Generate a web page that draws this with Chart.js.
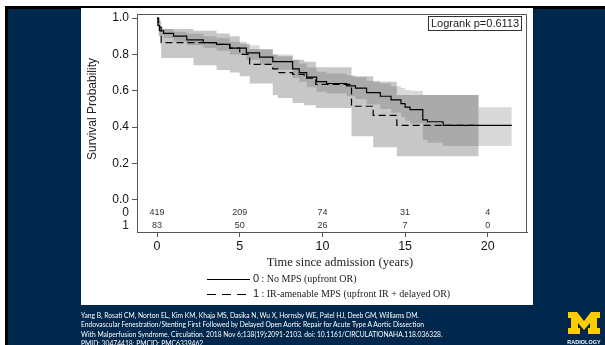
<!DOCTYPE html>
<html>
<head>
<meta charset="utf-8">
<script src="https://cdn.jsdelivr.net/npm/chart.js@4.4.1/dist/chart.umd.min.js"></script>
<style>
    html, body { margin: 0; padding: 0; }
    body { width: 605px; height: 345px; position: relative; overflow: hidden; background: #fff; font-family: "Liberation Sans", Arial, sans-serif; }
    #blackEdge { position: absolute; left: 5px; top: 6px; right: 0; bottom: 0; background: #000; }
    #navy { position: absolute; left: 8px; top: 9px; right: 0; bottom: 0; background: #00274c; }
    #panel { position: absolute; left: 81px; top: 8px; width: 452px; height: 297px; background: #fff; }
    #kmChart { position: absolute; left: 0; top: 0; }
    #cite { position: absolute; left: 81px; top: 311px; color: #fff; font-family: Lato, "Open Sans", sans-serif; font-size: 7.8px; line-height: 9.3px; white-space: nowrap; transform: scaleX(0.86); transform-origin: left top; }
    #logo { position: absolute; left: 567px; top: 312px; width: 34px; }
    #logo span { display: block; color: #fff; font-family: "Liberation Sans", Arial, sans-serif; font-weight: bold; font-size: 5.4px; text-align: center; margin-top: 1px; letter-spacing: 0.1px; }
</style>
</head>
<body>
<div id="blackEdge"></div>
<div id="navy"></div>
<div id="panel"></div>
<canvas id="kmChart" width="605" height="345"></canvas>

<div id="cite">
    Yang B, Rosati CM, Norton EL, Kim KM, Khaja MS, Dasika N, Wu X, Hornsby WE, Patel HJ, Deeb GM, Williams DM.<br>
    Endovascular Fenestration/Stenting First Followed by Delayed Open Aortic Repair for Acute Type A Aortic Dissection<br>
    With Malperfusion Syndrome. Circulation. 2018 Nov 6;138(19):2091-2103. doi: 10.1161/CIRCULATIONAHA.118.036328.<br>
    PMID: 30474418; PMCID: PMC6339462.
</div>

<div id="logo">
    <svg width="34" height="22" viewBox="0 0 34 22">
        <polygon fill="#ffcb05" points="1,0 10,0 17,9 24,0 33,0 33,6 30,6 30,16 33,16 33,22 21,22 21,16 23,16 23,11 17,18 11,11 11,16 13,16 13,22 1,22 1,16 4,16 4,6 1,6"/>
    </svg>
    <span>RADIOLOGY</span>
</div>

<script>
/* ================= DATA ================= */

// group 0 : No MPS (upfront OR)
const times0 = [0, 0.05, 0.15, 0.4, 1.0, 1.8, 2.8, 3.6, 4.4, 5.4, 6.2, 7.0, 8.2, 8.6, 9.05, 9.65, 10.25, 11.46, 12.0, 12.67, 13.5, 14.15, 14.75, 15.0, 15.3, 16.07, 16.35, 17.3, 19.45, 21.45];
const surv0  = [1.0, 0.96, 0.93, 0.915, 0.90, 0.88, 0.865, 0.855, 0.835, 0.808, 0.785, 0.76, 0.72, 0.70, 0.675, 0.65, 0.64, 0.627, 0.615, 0.59, 0.57, 0.55, 0.53, 0.51, 0.497, 0.44, 0.43, 0.41, 0.41, 0.41];
const lower0 = [1.0, 0.94, 0.905, 0.89, 0.87, 0.85, 0.835, 0.82, 0.80, 0.77, 0.745, 0.715, 0.67, 0.65, 0.62, 0.595, 0.585, 0.57, 0.555, 0.525, 0.50, 0.48, 0.455, 0.435, 0.42, 0.33, 0.315, 0.297, 0.297, 0.297];
const upper0 = [1.0, 0.98, 0.95, 0.94, 0.925, 0.915, 0.90, 0.89, 0.87, 0.85, 0.825, 0.80, 0.77, 0.75, 0.73, 0.705, 0.695, 0.685, 0.675, 0.655, 0.64, 0.625, 0.615, 0.605, 0.60, 0.577, 0.577, 0.577, 0.51, 0.51];

// group 1 : IR-amenable MPS (upfront IR + delayed OR)
const times1 = [0, 0.1, 0.25, 2.2, 3.6, 4.4, 5.0, 5.6, 7.0, 7.3, 8.2, 8.9, 9.6, 11.76, 13.07, 14.5, 19.45];
const surv1  = [1.0, 0.95, 0.865, 0.865, 0.855, 0.835, 0.80, 0.745, 0.72, 0.70, 0.69, 0.67, 0.635, 0.515, 0.465, 0.41, 0.41];
const lower1 = [1.0, 0.90, 0.78, 0.74, 0.714, 0.70, 0.68, 0.64, 0.577, 0.56, 0.533, 0.52, 0.505, 0.35, 0.29, 0.24, 0.24];
const upper1 = [1.0, 0.985, 0.94, 0.93, 0.915, 0.90, 0.86, 0.83, 0.80, 0.79, 0.77, 0.76, 0.73, 0.68, 0.65, 0.577, 0.577];

// axes
const xTicks = [0, 5, 10, 15, 20];
const yTicks = [0, 0.2, 0.4, 0.6, 0.8, 1.0];

// numbers at risk
const riskTimes = [0, 5, 10, 15, 20];
const risk0 = [419, 209, 74, 31, 4];
const risk1 = [83, 50, 26, 7, 0];

const legendLabels = [': No MPS (upfront OR)', ': IR-amenable MPS (upfront IR + delayed OR)'];

function pts(ts, vs) {
    return ts.map((t, i) => ({ x: t, y: vs[i] }));
}

/* ================= EXTRA DRAWING ================= */

const kmExtras = {
    id: 'kmExtras',
    afterDraw(chart) {
        const ctx = chart.ctx;
        const a = chart.chartArea;
        const x = chart.scales.x;
        ctx.save();

        // top + right frame
        ctx.strokeStyle = '#555';
        ctx.lineWidth = 1;
        ctx.beginPath();
        ctx.moveTo(a.left, a.top + 0.5);
        ctx.lineTo(a.right - 0.5, a.top + 0.5);
        ctx.lineTo(a.right - 0.5, a.bottom);
        ctx.stroke();

        // numbers at risk
        ctx.fillStyle = '#333';
        ctx.textAlign = 'center';
        ctx.textBaseline = 'middle';
        ctx.font = '9px "Liberation Sans", Arial';
        riskTimes.forEach((t, i) => {
            const px = x.getPixelForValue(t);
            ctx.fillText(risk0[i], px, a.bottom - 19);
            ctx.fillText(risk1[i], px, a.bottom - 6);
        });
        ctx.fillStyle = '#222';
        ctx.textAlign = 'right';
        ctx.font = '12px "Liberation Sans", Arial';
        ctx.fillText('0', 129, a.bottom - 19);
        ctx.fillText('1', 129, a.bottom - 6);

        // y title
        ctx.save();
        ctx.translate(93, 109);
        ctx.rotate(-Math.PI / 2);
        ctx.textAlign = 'center';
        ctx.fillText('Survival Probability', 0, 0);
        ctx.restore();

        // logrank box
        ctx.strokeStyle = '#333';
        ctx.strokeRect(428.5, 16.5, 93, 14);
        ctx.font = '11px "Liberation Sans", Arial';
        ctx.textAlign = 'center';
        ctx.fillText('Logrank p=0.6113', 475, 24);

        // x title
        ctx.font = '12.5px "Liberation Serif", "Times New Roman", serif';
        ctx.fillText('Time since admission (years)', 340, 263);

        // legend
        const rows = [279, 294];
        ctx.lineWidth = 1;
        ctx.strokeStyle = '#000';
        rows.forEach((ry, i) => {
            ctx.setLineDash(i === 0 ? [] : [9, 6]);
            ctx.beginPath();
            ctx.moveTo(207, ry + 0.5);
            ctx.lineTo(250, ry + 0.5);
            ctx.stroke();
            ctx.setLineDash([]);
            ctx.textAlign = 'left';
            ctx.font = '11px "Liberation Sans", Arial';
            ctx.fillText(String(i), 253, ry);
            ctx.font = '10px "Liberation Serif", "Times New Roman", serif';
            ctx.fillText(' ' + legendLabels[i], 259, ry + 0.5);
        });

        ctx.restore();
    }
};

/* ================= KAPLAN-MEIER ================= */

new Chart(document.getElementById('kmChart'), {

    type: 'line',

    data: {
        datasets: [
            {
                label: 'No MPS',
                data: pts(times0, surv0),
                borderColor: '#000',
                borderWidth: 1.2,
                stepped: true,
                pointRadius: 0,
                fill: false,
                order: 1
            },
            {
                label: 'IR-amenable MPS',
                data: pts(times1, surv1),
                borderColor: '#000',
                borderWidth: 1.2,
                borderDash: [7, 4],
                stepped: true,
                pointRadius: 0,
                fill: false,
                order: 1
            },
            {
                label: 'lower0',
                data: pts(times0, lower0),
                borderWidth: 0,
                stepped: true,
                pointRadius: 0,
                fill: false,
                order: 2
            },
            {
                label: 'upper0',
                data: pts(times0, upper0),
                borderWidth: 0,
                stepped: true,
                pointRadius: 0,
                backgroundColor: 'rgba(0,0,0,0.15)',
                fill: '-1',
                order: 2
            },
            {
                label: 'lower1',
                data: pts(times1, lower1),
                borderWidth: 0,
                stepped: true,
                pointRadius: 0,
                fill: false,
                order: 3
            },
            {
                label: 'upper1',
                data: pts(times1, upper1),
                borderWidth: 0,
                stepped: true,
                pointRadius: 0,
                backgroundColor: 'rgba(0,0,0,0.22)',
                fill: '-1',
                order: 3
            }
        ]
    },

    options: {
        responsive: false,
        animation: false,
        layout: {
            padding: { left: 97, right: 78, top: 14, bottom: 93 }
        },
        plugins: {
            legend: { display: false },
            tooltip: { enabled: false }
        },
        scales: {
            x: {
                type: 'linear',
                min: -1.21,
                max: 22.37,
                afterBuildTicks: s => { s.ticks = xTicks.map(v => ({ value: v })); },
                afterFit: s => { s.height = 20; },
                grid: { drawOnChartArea: false, tickLength: 5, color: '#555' },
                border: { color: '#555' },
                ticks: {
                    color: '#111',
                    padding: 2,
                    maxRotation: 0,
                    font: { family: '"Liberation Sans", Arial', size: 12.5 }
                }
            },
            y: {
                min: -0.176,
                max: 1.022,
                afterBuildTicks: s => { s.ticks = yTicks.map(v => ({ value: v })); },
                afterFit: s => { s.width = 40; },
                grid: { drawOnChartArea: false, tickLength: 5, color: '#555' },
                border: { color: '#555' },
                ticks: {
                    color: '#111',
                    padding: 3,
                    callback: v => v.toFixed(1),
                    font: { family: '"Liberation Sans", Arial', size: 12 }
                }
            }
        }
    },

    plugins: [kmExtras]

});
</script>
</body>
</html>
